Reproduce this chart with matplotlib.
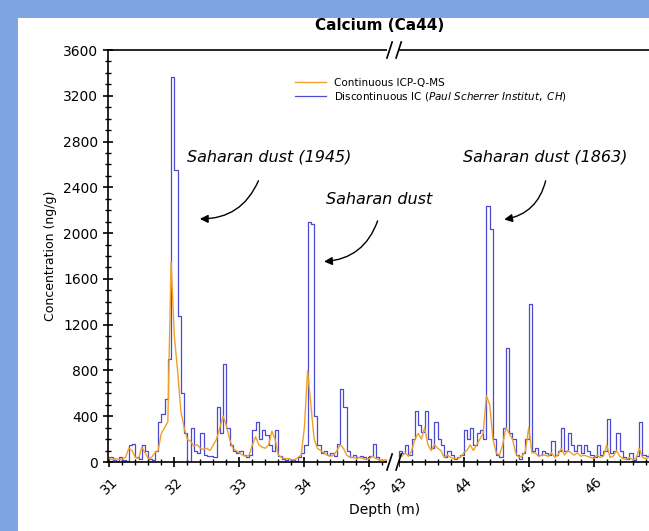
import numpy as np
import matplotlib.pyplot as plt
from matplotlib.patches import Rectangle
from matplotlib.ticker import MultipleLocator, FixedLocator

# --- data, 0.05 m steps ---
seg1_start, seg2_start, step = 31.0, 43.0, 0.05

ic_seg1 = [40, 20, 10, 40, 20, 10, 150, 160, 40, 30, 150, 100, 30, 20, 100, 350, 420, 550, 900, 3360,
           2550, 1280, 600, 250, 0, 300, 100, 80, 250, 60, 50, 50, 40, 480, 250, 860, 300, 150, 100, 80,
           100, 60, 40, 60, 280, 350, 200, 280, 240, 150, 100, 280, 50, 30, 20, 30, 20, 10, 40, 80,
           150, 2100, 2080, 400, 150, 80, 100, 60, 80, 50, 160, 640, 480, 100, 40, 60, 40, 50, 40, 30,
           50, 160, 40, 20, 10, 20, 10, 20, 10]
ic_seg2 = [100, 80, 150, 60, 200, 450, 320, 260, 450, 200, 120, 350, 200, 150, 40, 100, 60, 30, 40, 60,
           280, 200, 300, 150, 250, 280, 200, 2240, 2040, 200, 60, 40, 300, 1000, 250, 200, 60, 30, 80, 200,
           1380, 100, 120, 60, 100, 80, 60, 180, 60, 100, 300, 100, 250, 150, 100, 150, 80, 150, 100, 60,
           40, 150, 60, 100, 380, 80, 100, 250, 100, 40, 30, 80, 20, 50, 350, 60, 50, 80, 40]

icp_seg1 = [30, 20, 30, 20, 30, 40, 120, 100, 40, 30, 130, 80, 30, 40, 80, 100, 250, 300, 350, 1750,
            1100, 800, 450, 300, 200, 180, 140, 150, 120, 110, 120, 100, 150, 200, 300, 400, 320, 200, 120, 100,
            80, 60, 50, 60, 150, 220, 150, 130, 120, 150, 270, 200, 60, 40, 30, 30, 20, 20, 40, 60,
            300, 800, 500, 200, 120, 100, 80, 60, 50, 60, 100, 150, 120, 60, 40, 40, 30, 40, 30, 20,
            30, 50, 30, 20, 10, 20, 10, 20, 10]
icp_seg2 = [40, 50, 80, 50, 100, 200, 250, 200, 300, 150, 100, 150, 120, 100, 40, 60, 40, 30, 30, 40,
            80, 100, 150, 100, 150, 200, 250, 580, 500, 200, 80, 60, 150, 300, 250, 200, 80, 40, 50, 100,
            300, 80, 80, 50, 60, 60, 50, 80, 40, 60, 120, 60, 100, 80, 60, 80, 50, 60, 50, 40,
            30, 60, 40, 50, 150, 40, 50, 100, 50, 30, 20, 40, 20, 30, 120, 40, 30, 40, 30]

ticks_seg1 = [31, 32, 33, 34, 35]
ticks_seg2 = [43, 44, 45, 46, 47]

# the second depth segment is drawn right after the axis break
offset = 43 - 35.45


def to_axis(d, seg2=False):
    return np.asarray(d, dtype=float) - (offset if seg2 else 0)


d1 = seg1_start + step * np.arange(len(ic_seg1))
d2 = seg2_start + step * np.arange(len(ic_seg2))
x = np.concatenate([to_axis(d1), to_axis(d2, True)])
ic = np.concatenate([ic_seg1, ic_seg2])
icp = np.concatenate([icp_seg1, icp_seg2])

fig = plt.figure(figsize=(6.49, 5.31), dpi=100)
fig.patch.set_facecolor('#7ea4e2')
fig.patches.append(Rectangle((18 / 649, 0), 1, 1 - 18 / 531, transform=fig.transFigure,
                             facecolor='white', edgecolor='none', zorder=0))

ax = fig.add_axes([108 / 649, 69 / 531, 554 / 649, 412 / 531])
ax.set_facecolor('none')
ax.set_zorder(2)

ax.plot(x, icp, color='#f0a028', linewidth=1.0, label='Continuous ICP-Q-MS', zorder=3)
ax.step(x, ic, where='post', color='#4b4bd2', linewidth=0.9,
        label='Discontinuous IC ($\\it{Paul\\ Scherrer\\ Institut,\\ CH}$)', zorder=2)

ax.set_xlim(30.98, 39.5)
ax.set_ylim(0, 3600)
ax.spines['right'].set_visible(False)
for s in ['left', 'bottom', 'top']:
    ax.spines[s].set_linewidth(1.2)

tick_pos = list(to_axis(ticks_seg1)) + list(to_axis(ticks_seg2, True))
ax.xaxis.set_major_locator(FixedLocator(tick_pos))
ax.set_xticklabels([str(t) for t in ticks_seg1 + ticks_seg2], rotation=45)
minor = list(np.arange(31, 35.41, 0.2)) + list(to_axis(np.arange(43, 47.01, 0.2), True))
ax.xaxis.set_minor_locator(FixedLocator(minor))
ax.yaxis.set_major_locator(MultipleLocator(400))
ax.yaxis.set_minor_locator(MultipleLocator(100))
ax.tick_params(which='major', length=7, width=1.2, labelsize=10, direction='inout')
ax.tick_params(which='minor', length=4, width=1.0, direction='inout')
ax.tick_params(axis='x', which='both', top=False, pad=6)

# axis break markers
for yb in (0, 3600):
    ax.add_patch(Rectangle((35.27, yb - 40), 0.18, 80, facecolor='white', edgecolor='none',
                           zorder=4, clip_on=False))
    for xs in (35.27, 35.41):
        ax.plot([xs, xs + 0.08], [yb - 70, yb + 70], color='black', lw=1.2,
                clip_on=False, zorder=5)

ax.set_xlabel('Depth (m)', fontsize=10)
ax.set_ylabel('Concentration (ng/g)', fontsize=9)
fig.text(380 / 649, 1 - 25 / 531, 'Calcium (Ca44)', ha='center', va='center',
         fontsize=11, fontweight='bold')

leg = ax.legend(loc='upper left', bbox_to_anchor=(0.32, 0.955), frameon=False,
                fontsize=7.5, handlelength=3, labelspacing=0.2)

notes = [('Saharan dust (1945)', (33.46, 2666), (33.31, 2480), (32.35, 2125)),
         ('Saharan dust', (35.15, 2290), (35.14, 2130), (34.26, 1750)),
         ('Saharan dust (1863)', (37.71, 2666), (37.72, 2480), (37.03, 2115))]
for txt, pos, start, end in notes:
    ax.text(pos[0], pos[1], txt, style='italic', fontsize=11.5, ha='center', va='center')
    ax.annotate('', xy=end, xytext=start,
                arrowprops=dict(arrowstyle='-|>', color='black', lw=1.0,
                                connectionstyle='arc3,rad=-0.35', mutation_scale=12))

fig.savefig('out.png', dpi=100)
